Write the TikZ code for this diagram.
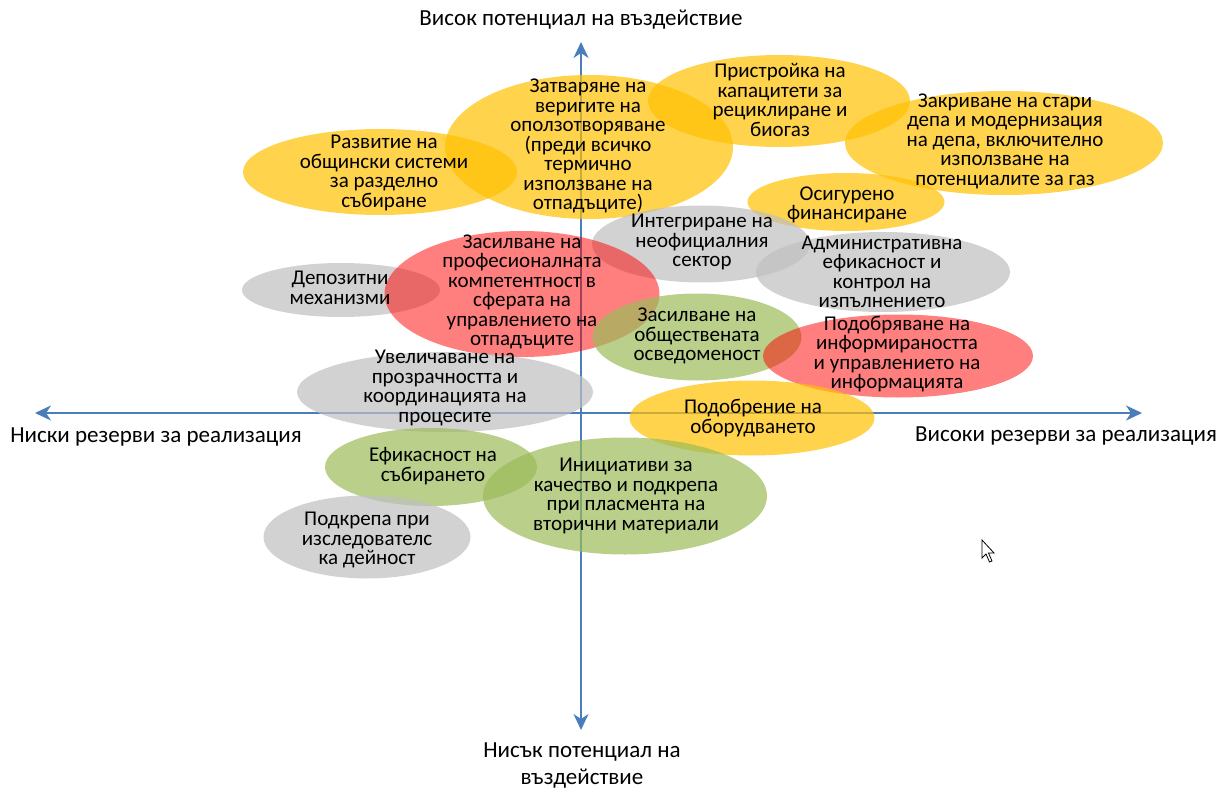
\documentclass[tikz,border=0pt]{standalone}
\usepackage{fontspec}
\setmainfont{Carlito}
\usetikzlibrary{arrows.meta,shapes.geometric}
\definecolor{axisblue}{HTML}{4A7EBB}
\definecolor{cyel}{HTML}{FFC000}
\definecolor{cgray}{HTML}{BFBFBF}
\definecolor{cred}{HTML}{FF0000}
\definecolor{cgreen}{HTML}{9BBB59}
\begin{document}
\begin{tikzpicture}[x=1pt,y=-1pt,
  blob/.style={ellipse, inner sep=0pt, draw=none, fill opacity=0.7},
  yblob/.style={blob, fill=cyel},
  gblob/.style={blob, fill=cgray},
  rblob/.style={blob, fill=cred, fill opacity=0.5},
  grblob/.style={blob, fill=cgreen},
  lbl/.style={align=center, inner sep=0pt, text=black, font=\fontsize{21}{19.5}\selectfont},
  axlbl/.style={align=center, inner sep=0pt, text=black, font=\fontsize{23}{27}\selectfont},
  axis/.style={draw=axisblue, line width=2pt, -{Stealth[length=16pt, width=15pt, inset=5pt]}}
]
\useasboundingbox (0,0) rectangle (1230,791);
% axes
\coordinate (O) at (581,413);
\coordinate (L) at (35,413);
\coordinate (R) at (1142,413);
\coordinate (T) at (581,42);
\coordinate (B) at (581,730);
\draw[axis] (O) -- (L);
\draw[axis] (O) -- (R);
\draw[axis] (O) -- (T);
\draw[axis] (O) -- (B);
% ellipses
\node[yblob, minimum width=274pt, minimum height=86pt] (e1) at (380,172) {};
\node[yblob, minimum width=288pt, minimum height=144pt] (e2) at (589,147) {};
\node[yblob, minimum width=262pt, minimum height=92pt] (e3) at (779,101) {};
\node[yblob, minimum width=318pt, minimum height=104pt] (e4) at (1004,143) {};
\node[yblob, minimum width=197pt, minimum height=58pt] (e5) at (846,202) {};
\node[gblob, minimum width=218pt, minimum height=77pt] (e6) at (701,244) {};
\node[gblob, minimum width=254pt, minimum height=80pt] (e7) at (883,272) {};
\node[gblob, minimum width=198pt, minimum height=54pt] (e8) at (341,290) {};
\node[rblob, minimum width=275pt, minimum height=126pt] (e9) at (522,294) {};
\node[grblob, minimum width=209pt, minimum height=87pt] (e10) at (697,337) {};
\node[rblob, minimum width=270pt, minimum height=83pt] (e11) at (898,356) {};
\node[gblob, minimum width=296pt, minimum height=80pt] (e12) at (445,392) {};
\node[yblob, minimum width=245pt, minimum height=75pt] (e13) at (752,418) {};
\node[grblob, minimum width=212pt, minimum height=78pt] (e14) at (431,467) {};
\node[grblob, minimum width=284pt, minimum height=117pt] (e15) at (625,496) {};
\node[gblob, minimum width=207pt, minimum height=83pt] (e16) at (367,537) {};
% texts
\node[lbl] (t1) at (384,173) {Развитие на\\общински системи\\за разделно\\събиране};
\node[lbl] (t2) at (588,146) {Затваряне на\\веригите на\\оползотворяване\\(преди всичко\\термично\\използване на\\отпадъците)};
\node[lbl] (t3) at (780,100) {Пристройка на\\капацитети за\\рециклиране и\\биогаз};
\node[lbl] (t4) at (1005,141) {Закриване на стари\\депа и модернизация\\на депа, включително\\използване на\\потенциалите за газ};
\node[lbl] (t5) at (847,205) {Осигурено\\финансиране};
\node[lbl] (t6) at (702,242) {Интегриране на\\неофициалния\\сектор};
\node[lbl] (t7) at (882,272) {Административна\\ефикасност и\\контрол на\\изпълнението};
\node[lbl] (t8) at (340,288) {Депозитни\\механизми};
\node[lbl] (t9) at (522,292) {Засилване на\\професионалната\\компетентност в\\сферата на\\управлението на\\отпадъците};
\node[lbl] (t10) at (697,336) {Засилване на\\обществената\\осведоменост};
\node[lbl] (t11) at (897,354) {Подобряване на\\информираността\\и управлението на\\информацията};
\node[lbl] (t12) at (445,388) {Увеличаване на\\прозрачността и\\координацията на\\процесите};
\node[lbl] (t13) at (753,418) {Подобрение на\\оборудването};
\node[lbl] (t14) at (433,466) {Ефикасност на\\събирането};
\node[lbl] (t15) at (626,496) {Инициативи за\\качество и подкрепа\\при пласмента на\\вторични материали};
\node[lbl] (t16) at (367,540) {Подкрепа при\\изследователс\\ка дейност};
% axis labels
\node[axlbl] (top) at (581,20) {Висок потенциал на въздействие};
\node[axlbl] (bot) at (582,766) {Нисък потенциал на\\въздействие};
\node[axlbl] (lft) at (156,437) {Ниски резерви за реализация};
\node[axlbl] (rgt) at (1066,436) {Високи резерви за реализация};
% mouse cursor
\draw[fill=white, draw=black, line width=0.8pt, line join=miter]
  (982,540) -- (982,558) -- (986,554) -- (989.5,562) -- (992,561) -- (988.5,553) -- (994,553) -- cycle;
\end{tikzpicture}
\end{document}
